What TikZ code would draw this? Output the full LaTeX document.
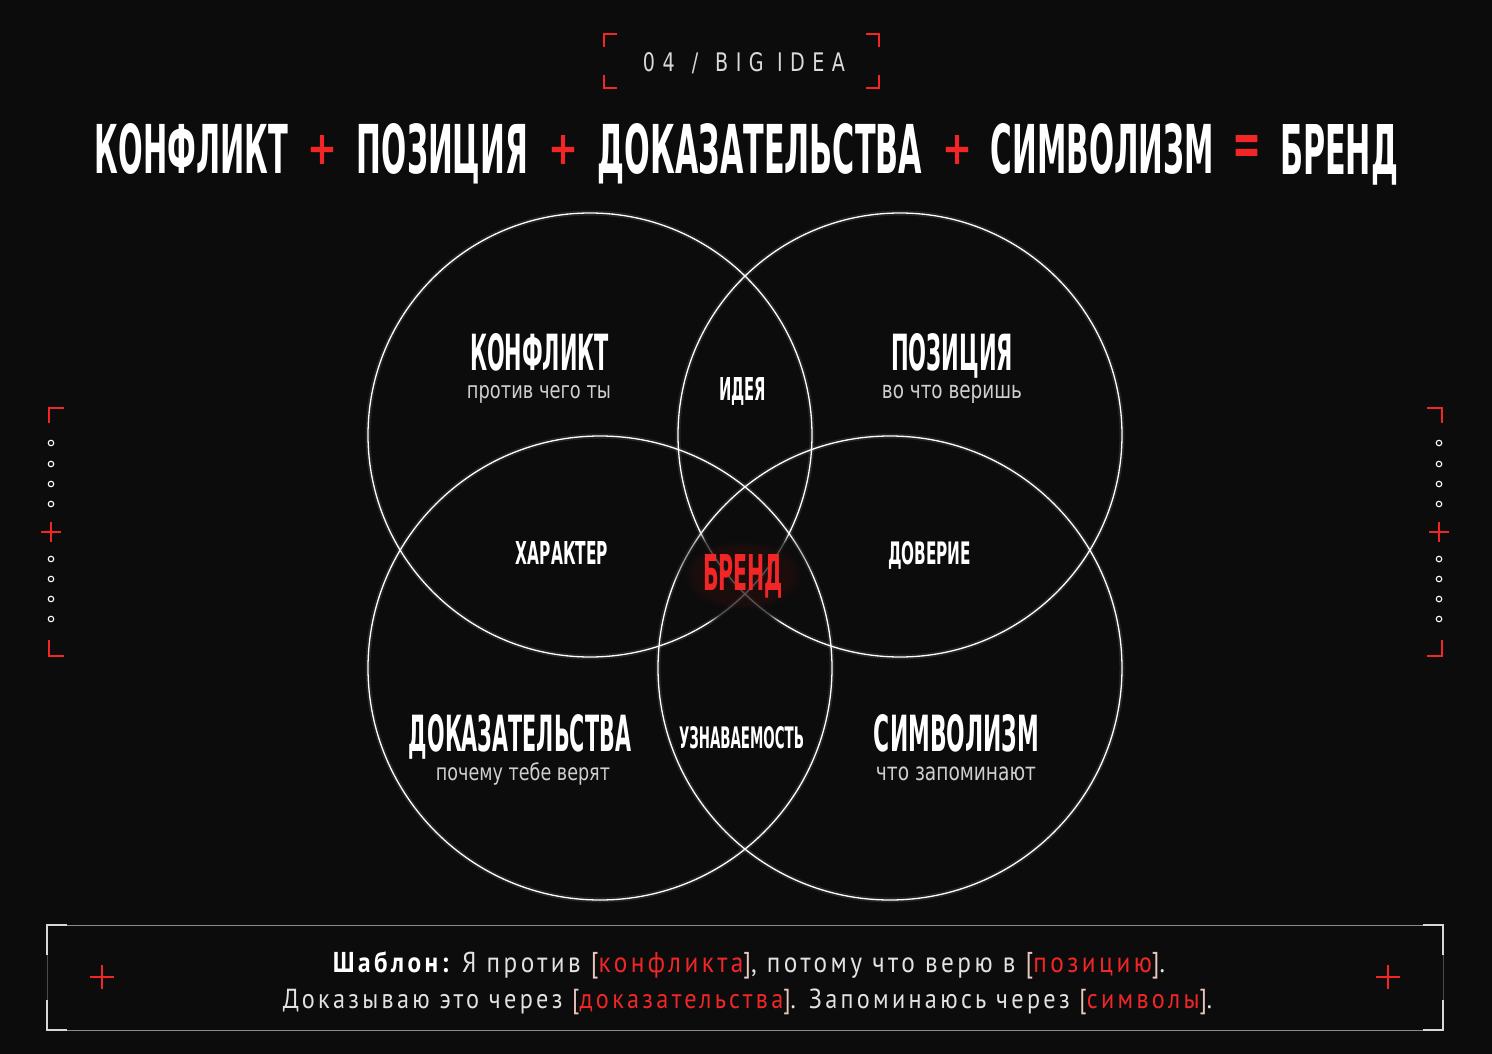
\documentclass[tikz,border=0pt]{standalone}
\usepackage{fontspec}
\usepackage{graphicx}
\setmainfont{DejaVu Sans}
\newfontfamily\headfont{DejaVu Sans Condensed}
\newfontfamily\subfont[FakeStretch=0.85]{DejaVu Sans Condensed}
\newfontfamily\tagfont[LetterSpace=35]{DejaVu Sans Condensed}
\newfontfamily\tmplfont[LetterSpace=12,FakeStretch=0.88]{PT Sans}
\usetikzlibrary{positioning, fadings}

\definecolor{bgc}{HTML}{0C0C0C}
\definecolor{redc}{HTML}{F22626}
\definecolor{subc}{HTML}{CFCFCF}
\definecolor{brc}{HTML}{E9C6BE}
\definecolor{tmplc}{HTML}{E2E2E2}
\definecolor{framec}{HTML}{8A8A8A}
\definecolor{cornerc}{HTML}{D8D8D8}

\newcommand{\capfit}[3]{\resizebox{#1pt}{#2pt}{\headfont\bfseries #3}}
\newcommand{\subfit}[2]{\resizebox{#1pt}{!}{\subfont #2}}
\newcommand{\slot}[1]{{\color{brc}[}{\color{redc}#1}{\color{brc}]}}

\begin{document}
\begin{tikzpicture}[x=1pt, y=-1pt,
		ring/.style={circle, draw=white, line width=1.3pt, minimum size=#1, inner sep=0pt},
		haze/.style={draw=white, draw opacity=0.10, line width=5pt},
		bigword/.style={anchor=base, text=white, inner sep=0pt},
		redword/.style={bigword, text=redc},
		subword/.style={anchor=base, text=subc, inner sep=0pt},
		tmplline/.style={anchor=base, text=tmplc, inner sep=0pt},
		dot/.style={circle, draw=white, line width=1.1pt, minimum size=5.5pt, inner sep=0pt},
		redmark/.style={draw=redc, line width=2pt},
		framec/.style={draw=framec, line width=1pt},
		corner/.style={draw=cornerc, line width=1.6pt}]
	\fill[bgc] (0,0) rectangle (1492,1054);

	\draw[redmark] (604,47) -- (604,34) -- (617,34);
	\draw[redmark] (866,34) -- (879,34) -- (879,47);
	\draw[redmark] (604,75) -- (604,88) -- (617,88);
	\draw[redmark] (866,88) -- (879,88) -- (879,75);
	\node[bigword, text=white!85!black] (tag) at (744,72) {\resizebox{202pt}{19pt}{\tagfont 04 \,/\, BIG IDEA}};

	\node[bigword] (tkonf) at (191.5,174) {\capfit{193}{50}{КОНФЛИКТ}};
	\node[redword] (plus1) at (322,165) {\capfit{30}{29}{+}};
	\node[bigword] (tpoz) at (442.5,174) {\capfit{171}{50}{ПОЗИЦИЯ}};
	\node[redword] (plus2) at (563,165) {\capfit{30}{29}{+}};
	\node[bigword] (tdok) at (760,174) {\capfit{324}{50}{ДОКАЗАТЕЛЬСТВА}};
	\node[redword] (plus3) at (957,165) {\capfit{30}{29}{+}};
	\node[bigword] (tsim) at (1102.5,174) {\capfit{223}{50}{СИМВОЛИЗМ}};
	\node[redword] (equal) at (1247,166) {\capfit{29}{30}{=}};
	\node[bigword] (tbrand) at (1339,174) {\capfit{118}{50}{БРЕНД}};

	\node[ring=444pt] (konfc) at (590,435) {};
	\node[ring=444pt] (pozc) at (900,435) {};
	\node[ring=464pt] (dokc) at (600,668) {};
	\node[ring=464pt] (simc) at (890,668) {};
	\draw[haze] (konfc.center) circle[radius=222];
	\draw[haze] (pozc.center) circle[radius=222];
	\draw[haze] (dokc.center) circle[radius=232];
	\draw[haze] (simc.center) circle[radius=232];

	\fill[bgc, fill opacity=0.7, path fading=circle with fuzzy edge 20 percent] (743,575) ellipse[x radius=70, y radius=55];
	\fill[redc, fill opacity=0.07, path fading=circle with fuzzy edge 20 percent] (743,575) ellipse[x radius=60, y radius=35];

	\node[bigword] (konf) at (539.5,370) {\capfit{139}{37}{КОНФЛИКТ}};
	\node[subword] (konfsub) at (539,398) {\subfit{144}{против чего ты}};
	\node[bigword] (poz) at (952,370) {\capfit{122}{37}{ПОЗИЦИЯ}};
	\node[subword] (pozsub) at (952,398) {\subfit{140}{во что веришь}};
	\node[bigword] (idea) at (742.5,400) {\capfit{47}{23}{ИДЕЯ}};
	\node[bigword] (har) at (562,564) {\capfit{92}{23}{ХАРАКТЕР}};
	\node[redword] (brand) at (743,590) {\capfit{80}{36}{БРЕНД}};
	\node[bigword] (dov) at (929.5,564) {\capfit{83}{23}{ДОВЕРИЕ}};
	\node[bigword] (dok) at (520,751) {\capfit{222}{37}{ДОКАЗАТЕЛЬСТВА}};
	\node[subword] (doksub) at (523,780) {\subfit{174}{почему тебе верят}};
	\node[bigword] (uzn) at (741.5,748) {\capfit{125}{22}{УЗНАВАЕМОСТЬ}};
	\node[bigword] (sim) at (956.5,751) {\capfit{165}{37}{СИМВОЛИЗМ}};
	\node[subword] (simsub) at (956,780) {\subfit{160}{что запоминают}};

	\draw[redmark] (49,423) -- (49,408) -- (64,408);
	\draw[redmark] (49,640) -- (49,656) -- (64,656);
	\draw[redmark] (41,532) -- (61,532) (51,522) -- (51,542);
	\foreach \y in {443,464,484,504,559,579,599,619}
		\node[dot] (ldot\y) at (51,\y) {};
	\draw[redmark] (1442,423) -- (1442,408) -- (1427,408);
	\draw[redmark] (1442,640) -- (1442,656) -- (1427,656);
	\draw[redmark] (1429,532) -- (1449,532) (1439,522) -- (1439,542);
	\foreach \y in {443,464,484,504,559,579,599,619}
		\node[dot] (rdot\y) at (1439,\y) {};

	\draw[framec] (47,925) -- (1443,925) (47,1030) -- (1443,1030);
	\draw[framec, draw opacity=0.5] (47,925) -- (47,1030) (1443,925) -- (1443,1030);
	\draw[corner] (47,955) -- (47,925) -- (67,925);
	\draw[corner] (1423,925) -- (1443,925) -- (1443,955);
	\draw[corner] (47,1000) -- (47,1030) -- (67,1030);
	\draw[corner] (1423,1030) -- (1443,1030) -- (1443,1000);
	\draw[redmark, line width=1.6pt] (90,977) -- (114,977) (102,965) -- (102,989);
	\draw[redmark, line width=1.6pt] (1376,977) -- (1400,977) (1388,965) -- (1388,989);

	\node[tmplline] (tmpl1) at (749,972) {\resizebox{832pt}{!}{\tmplfont{\bfseries\color{white}Шаблон:} Я против \slot{конфликта}, потому что верю в \slot{позицию}.}};
	\node[tmplline] (tmpl2) at (747.5,1008) {\resizebox{929pt}{!}{\tmplfont Доказываю это через \slot{доказательства}. Запоминаюсь через \slot{символы}.}};
\end{tikzpicture}
\end{document}
